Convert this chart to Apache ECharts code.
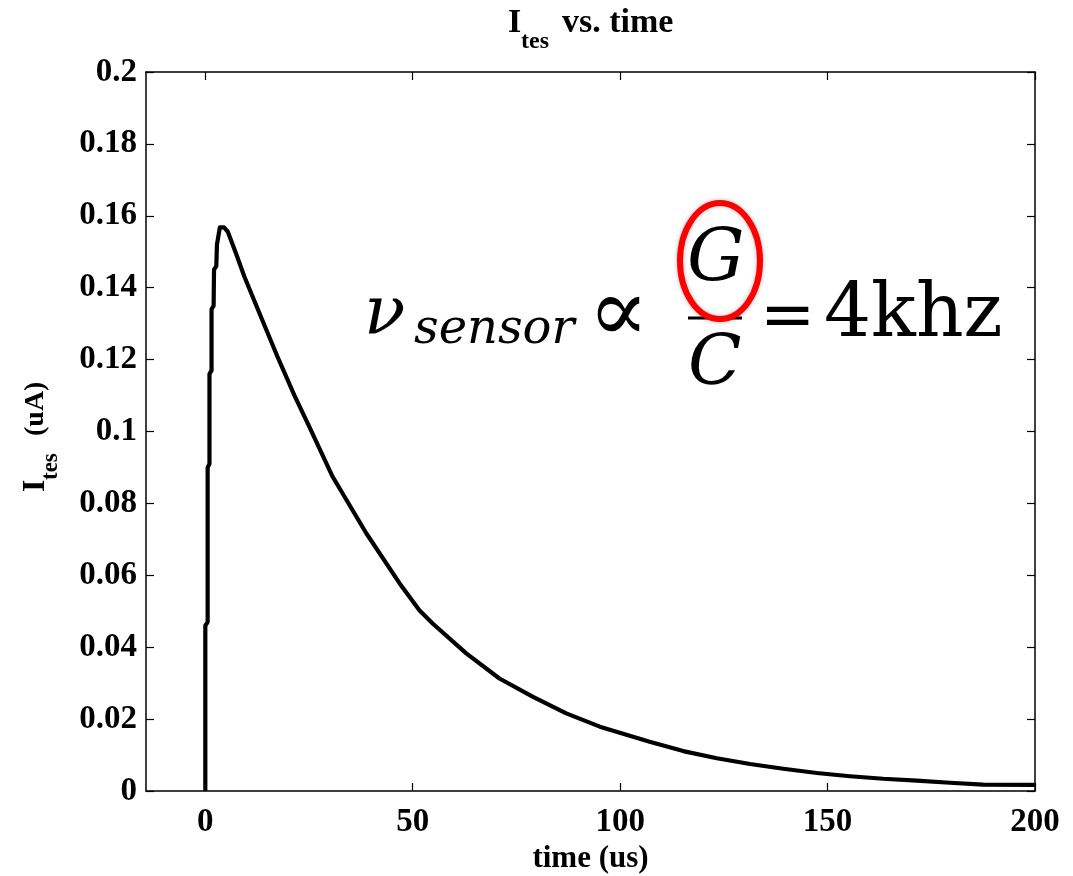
<!DOCTYPE html>
<html>
<head>
<meta charset="utf-8">
<title>Ites vs. time</title>
<script src="https://cdn.jsdelivr.net/npm/echarts@6/dist/echarts.min.js"></script>
<style>
    html, body { margin: 0; padding: 0; background: #fff; }
    #chart { width: 1073px; height: 876px; }
</style>
</head>
<body>
<div id="chart"></div>
<script>
// ---- data ----
const timeUs = [0, 0, 0.56, 0.56, 1.0, 1.0, 1.5, 1.5, 2.0, 2.1, 2.65, 2.8, 3.1, 3.5, 4.5,
    5.4, 7.4, 9.4, 13.4, 17.4, 21.5, 25, 30.7, 38.8, 46.8, 51.6, 54.8, 62.9, 70.9,
    79, 87, 95.1, 103.1, 107.1, 115.2, 123.3, 131.3, 139.3, 147.4, 155.4, 163.4,
    171.5, 179.5, 187.5, 200];
const itesUA = [0, 0.046, 0.047, 0.090, 0.091, 0.116, 0.117, 0.134, 0.135, 0.145, 0.146, 0.152, 0.154, 0.1568, 0.1568,
    0.1556, 0.1495, 0.1431, 0.1319, 0.1208, 0.1100, 0.1015, 0.0874, 0.0717, 0.0578, 0.0503, 0.0466, 0.0383, 0.0313,
    0.0262, 0.0216, 0.0179, 0.0151, 0.0137, 0.0111, 0.0091, 0.0075, 0.0062, 0.0050, 0.0041, 0.0034,
    0.0029, 0.0023, 0.0018, 0.0017];
const xTicks = [0, 50, 100, 150, 200];
const yTicks = [0, 0.02, 0.04, 0.06, 0.08, 0.1, 0.12, 0.14, 0.16, 0.18, 0.2];

const SERIF = "'Liberation Serif', 'Times New Roman', serif";
const MATH = "'DejaVu Serif', serif";

const chart = echarts.init(document.getElementById('chart'));

const boxAxis = () => ({
    show: true,
    onZero: false,
    lineStyle: { color: '#000', width: 1.5 }
});
const inTick = (vals) => ({
    show: true, inside: true, length: 8,
    customValues: vals,
    lineStyle: { color: '#000', width: 1.2 }
});

chart.setOption({
    animation: false,
    backgroundColor: '#fff',
    grid: { left: 146, right: 38, top: 72, bottom: 85, outerBoundsMode: 'none', containLabel: false },
    xAxis: [{
        type: 'value', min: -14.3, max: 200, position: 'bottom',
        axisLine: boxAxis(), axisTick: inTick(xTicks), splitLine: { show: false },
        axisLabel: {
            customValues: xTicks, margin: 15,
            color: '#000', fontFamily: SERIF, fontWeight: 'bold', fontSize: 33
        },
        name: 'time (us)', nameLocation: 'middle', nameGap: 52,
        nameTextStyle: { color: '#000', fontFamily: SERIF, fontWeight: 'bold', fontSize: 31 }
    }, {
        type: 'value', min: -14.3, max: 200, position: 'top',
        axisLine: boxAxis(), axisTick: inTick(xTicks), splitLine: { show: false },
        axisLabel: { show: false }
    }],
    yAxis: [{
        type: 'value', min: 0, max: 0.2, interval: 0.02, position: 'left',
        axisLine: boxAxis(), axisTick: inTick(yTicks), splitLine: { show: false },
        axisLabel: {
            margin: 9, color: '#000', fontFamily: SERIF, fontWeight: 'bold', fontSize: 33
        }
    }, {
        type: 'value', min: 0, max: 0.2, interval: 0.02, position: 'right',
        axisLine: boxAxis(), axisTick: inTick(yTicks), splitLine: { show: false },
        axisLabel: { show: false }
    }],
    series: [{
        type: 'line',
        data: timeUs.map((t, i) => [t, itesUA[i]]),
        showSymbol: false,
        lineStyle: { color: '#000', width: 4.2, join: 'round' },
        z: 3
    }],
    graphic: [
        // title
        { type: 'text', left: 508, top: 6, style: { text: 'I', font: "bold 34px " + SERIF, fill: '#000' } },
        { type: 'text', left: 521, top: 30, style: { text: 'tes', font: "bold 24px " + SERIF, fill: '#000' } },
        { type: 'text', left: 562, top: 6, style: { text: 'vs. time', font: "bold 34px " + SERIF, fill: '#000' } },
        // y axis name, rotated
        {
            type: 'group', x: 38, y: 432, rotation: Math.PI / 2,
            children: [
                { type: 'text', x: -60, y: -18, style: { text: 'I', font: "bold 32px " + SERIF, fill: '#000' } },
                { type: 'text', x: -48, y: 2, style: { text: 'tes', font: "bold 23px " + SERIF, fill: '#000' } },
                { type: 'text', x: -4, y: -16, style: { text: '(uA)', font: "bold 28px " + SERIF, fill: '#000' } }
            ]
        },
        // formula annotation
        { type: 'text', x: 364, y: 316, style: { text: 'ν', font: "italic 68px " + MATH, fill: '#000', verticalAlign: 'middle' } },
        { type: 'text', x: 414, y: 331, style: { text: 'sensor', font: "italic 48px " + MATH, fill: '#000', verticalAlign: 'middle' } },
        { type: 'text', x: 588, y: 318, style: { text: '∝', font: "90px " + MATH, fill: '#000', verticalAlign: 'middle' } },
        { type: 'text', x: 687, y: 262, style: { text: 'G', font: "italic 72px " + MATH, fill: '#000', verticalAlign: 'middle' } },
        { type: 'line', shape: { x1: 688, y1: 318, x2: 742, y2: 318 }, style: { stroke: '#000', lineWidth: 3 } },
        { type: 'text', x: 688, y: 366, style: { text: 'C', font: "italic 70px " + MATH, fill: '#000', verticalAlign: 'middle' } },
        { type: 'text', x: 760, y: 319, style: { text: '=', font: "66px " + MATH, fill: '#000', verticalAlign: 'middle' } },
        { type: 'text', x: 824, y: 317, style: { text: '4khz', font: "74px " + MATH, fill: '#000', verticalAlign: 'middle' } },
        {
            type: 'ellipse', shape: { cx: 720, cy: 261, rx: 40, ry: 58 },
            style: { fill: 'none', stroke: '#f00', lineWidth: 6, shadowBlur: 4, shadowColor: 'rgba(0,0,0,0.3)' }
        }
    ]
});
</script>
</body>
</html>
